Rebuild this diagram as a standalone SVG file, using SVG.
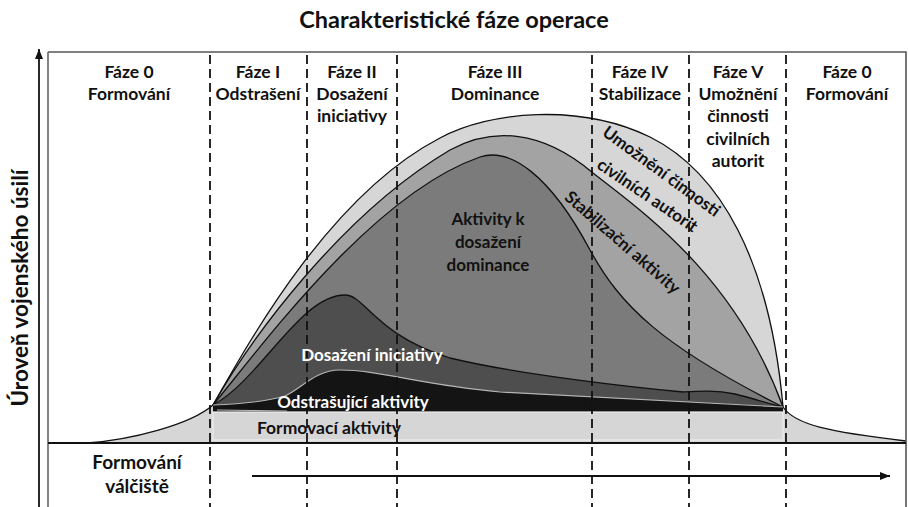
<svg xmlns="http://www.w3.org/2000/svg" width="908" height="507" viewBox="0 0 908 507">
<defs>
<style>
text{font-family:Lato,"Open Sans","Liberation Sans",sans-serif;font-weight:bold;fill:#111}
.hd{font-size:17.5px;text-anchor:middle}
.lb{font-size:17px;text-anchor:middle}
.wt{fill:#fff}
.dash{stroke:#111;stroke-width:1.8;stroke-dasharray:9 5;fill:none}
.edge{fill:none;stroke:#111;stroke-width:1.3}
</style>
<marker id="ah" viewBox="0 0 10 10" refX="10" refY="5" markerWidth="10" markerHeight="10" markerUnits="userSpaceOnUse" orient="auto">
<path d="M0,1 L10,5 L0,9 Z" fill="#111"/>
</marker>
</defs>
<rect width="908" height="507" fill="#fff"/>

<g id="title"><text x="454" y="28" style="font-size:23.5px;text-anchor:middle">Charakteristické fáze operace</text></g>

<g id="layers">
<path id="l-outer" d="M87 443 C130 440 190 425 213 405 C250 340 330 195 440 138 C490 111 580 103 650 137 C720 172 770 260 783 407 C795 425 830 432 906 441 L906 443 L87 443 Z" fill="#d6d6d6"/>
<path id="l-stab" d="M213 405 C250 340 340 215 450 150 C490 128 540 128 593 173 C640 210 735 275 783 407 L783 412 L213 412 Z" fill="#a3a3a3"/>
<path id="l-dom" d="M213 405 C255 355 370 195 480 157 C510 147 550 175 590 250 C620 305 660 345 783 407 L783 412 L213 412 Z" fill="#7b7b7b"/>
<path id="l-init" d="M213 405 C260 380 300 295 345 295 C365 295 375 335 450 358 C520 375 640 388 683 392 C700 391 715 390 735 394 C755 399 770 404 783 407 L783 412 L213 412 Z" fill="#4e4e4e"/>
<path id="l-det" d="M213 405 C240 404 265 402 285 396 C300 390 315 370 340 370 C380 370 420 385 500 392 C600 398 700 402 783 407 L783 413 L213 412 Z" fill="#141414"/>
<rect id="l-form" x="213" y="412" width="570" height="28" fill="#d6d6d6" stroke="#ededed" stroke-width="1.2"/>
<path d="M217 410 L287 411" stroke="#bdbdbd" stroke-width="1" fill="none"/>
<path class="edge" d="M87 443 C130 440 190 425 213 405 C250 340 330 195 440 138 C490 111 580 103 650 137 C720 172 770 260 783 407 C795 425 830 432 906 441"/>
<path class="edge" d="M213 405 C250 340 340 215 450 150 C490 128 540 128 593 173 C640 210 735 275 783 407"/>
<path class="edge" d="M213 405 C255 355 370 195 480 157 C510 147 550 175 590 250 C620 305 660 345 783 407"/>
<path class="edge" d="M213 405 C260 380 300 295 345 295 C365 295 375 335 450 358 C520 375 640 388 683 392 C700 391 715 390 735 394 C755 399 770 404 783 407"/>
<path d="M213 405 C240 404 265 402 285 396 C300 390 315 370 340 370 C380 370 420 385 500 392 C600 398 700 402 783 407" fill="none" stroke="#b5b5b5" stroke-width="1.2"/>
</g>

<g id="frame" fill="none">
<path d="M48 52 H906 V507" stroke="#555" stroke-width="1.6"/>
<path d="M48 52 V507" stroke="#666" stroke-width="1.6"/>
<path d="M48 443 H906" stroke="#111" stroke-width="2"/>
</g>

<g id="phase-lines">
<line class="dash" x1="210" y1="55" x2="210" y2="507"/>
<line class="dash" x1="307" y1="55" x2="307" y2="507"/>
<line class="dash" x1="397" y1="55" x2="397" y2="507"/>
<line class="dash" x1="592" y1="55" x2="592" y2="507"/>
<line class="dash" x1="689" y1="55" x2="689" y2="507"/>
<line class="dash" x1="786" y1="55" x2="786" y2="507"/>
</g>

<g id="phase0a"><text class="hd" x="129" y="78">Fáze 0</text><text class="hd" x="129" y="100">Formování</text></g>
<g id="phase1"><text class="hd" x="258" y="78">Fáze I</text><text class="hd" x="258" y="100">Odstrašení</text></g>
<g id="phase2"><text class="hd" x="352" y="78">Fáze II</text><text class="hd" x="352" y="100">Dosažení</text><text class="hd" x="352" y="122">iniciativy</text></g>
<g id="phase3"><text class="hd" x="495" y="78">Fáze III</text><text class="hd" x="495" y="100">Dominance</text></g>
<g id="phase4"><text class="hd" x="640" y="78">Fáze IV</text><text class="hd" x="640" y="100">Stabilizace</text></g>
<g id="phase5"><text class="hd" x="738" y="78">Fáze V</text><text class="hd" x="738" y="100">Umožnění</text><text class="hd" x="738" y="122">činnosti</text><text class="hd" x="738" y="145">civilních</text><text class="hd" x="738" y="167">autorit</text></g>
<g id="phase0b"><text class="hd" x="847" y="78">Fáze 0</text><text class="hd" x="847" y="100">Formování</text></g>

<g id="labels">
<text class="lb" x="488" y="225">Aktivity k</text>
<text class="lb" x="488" y="248">dosažení</text>
<text class="lb" x="488" y="271">dominance</text>
<text class="lb" transform="translate(661,172) rotate(36)" dy="5">Umožnění činnosti</text>
<text class="lb" transform="translate(647,196) rotate(34)" dy="5">civilních autorit</text>
<text class="lb" transform="translate(622,243) rotate(41)" dy="5">Stabilizační aktivity</text>
<text class="lb wt" x="372" y="361">Dosažení iniciativy</text>
<text class="lb wt" x="353" y="408">Odstrašující aktivity</text>
<text class="lb" x="329" y="434" style="font-size:17.5px">Formovací aktivity</text>
</g>

<g id="bottom"><text class="hd" x="137" y="469" style="font-size:19px">Formování</text><text class="hd" x="137" y="493" style="font-size:19px">válčiště</text></g>

<g id="y-label"><text transform="translate(28,288) rotate(-90)" style="font-size:22.5px;text-anchor:middle">Úroveň vojenského úsilí</text></g>

<g id="connectors" fill="none" stroke="#111">
<line x1="39" y1="507" x2="39" y2="49" stroke-width="1.8" marker-end="url(#ah)"/>
<line x1="252" y1="476" x2="890" y2="476" stroke-width="1.8" marker-end="url(#ah)"/>
</g>
</svg>
